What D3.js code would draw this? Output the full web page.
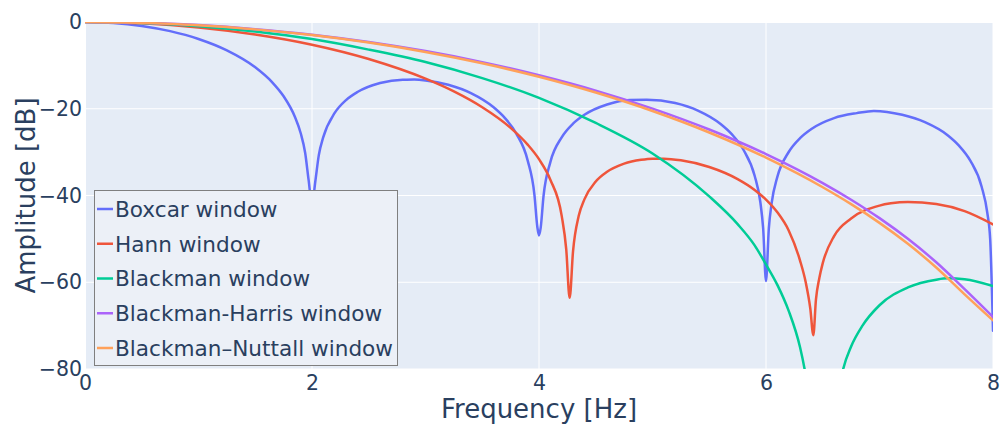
<!DOCTYPE html>
<html>
<head>
<meta charset="utf-8">
<script src="https://cdn.jsdelivr.net/npm/d3@7"></script>
<style>
  body { margin: 0; background: #ffffff; }
  text { font-family: "DejaVu Sans", Verdana, sans-serif; fill: #2a3f5f; }
</style>
</head>
<body>
<svg id="chart" width="1002" height="428"></svg>
<script>
// Window names (legend order = drawing order)
const seriesNames = ["Boxcar window", "Hann window", "Blackman window",
                     "Blackman-Harris window", "Blackman\u2013Nuttall window"];
const seriesColors = ["#636efa", "#ef553b", "#00cc96", "#ab63fa", "#ffa15a"];

// Tick values
const xTicks = [0, 2, 4, 6, 8];
const yTicks = [0, -20, -40, -60, -80];

// Boxcar window response: frequency [Hz] and amplitude [dB]
const boxcarFreq = [0, 0.25, 0.5, 0.75, 1.0, 1.25, 1.5, 1.65, 1.75, 1.85, 1.9, 1.94, 1.97, 2.0,
  2.03, 2.06, 2.1, 2.2, 2.3, 2.4, 2.6, 2.8, 2.9, 3.0, 3.2, 3.4, 3.6, 3.7, 3.8, 3.9, 3.96, 3.985,
  4.0, 4.015, 4.04, 4.1, 4.2, 4.3, 4.4, 4.6, 4.8, 4.95, 5.2, 5.4, 5.6, 5.7, 5.8, 5.9, 5.95, 5.975,
  6.0, 6.025, 6.05, 6.1, 6.2, 6.3, 6.4, 6.6, 6.8, 6.95, 7.2, 7.4, 7.6, 7.7, 7.8, 7.9, 7.95, 7.975, 8.0];
const boxcarDb = [0, -0.22, -0.91, -2.11, -3.92, -6.55, -10.45, -13.91, -17.13, -21.9, -25.6, -30.2, -36.4, -42,
  -36.6, -30.7, -26.5, -20.97, -18.0, -16.14, -14.06, -13.3, -13.28, -13.46, -14.46, -16.39, -19.66, -22.15, -25.72, -31.9, -39.9, -47.2,
  -49.2, -47.4, -40.1, -32.3, -26.6, -23.45, -21.4, -19.02, -17.98, -17.9, -18.68, -20.41, -23.5, -25.9, -29.39, -35.45, -41.5, -47.6,
  -59.7, -47.6, -41.7, -35.7, -29.97, -26.77, -24.66, -22.15, -21.01, -20.5, -21.4, -23.1, -26.1, -28.5, -31.97, -37.99, -44.03, -50.0, -71.2];

// Hann window response
const hannFreq = [0, 0.5, 1.0, 1.5, 2.0, 2.5, 3.0, 3.25, 3.5, 3.75, 3.9, 4.0, 4.1, 4.2, 4.24, 4.27,
  4.3, 4.35, 4.4, 4.5, 4.6, 4.75, 4.9, 5.0, 5.1, 5.25, 5.5, 5.75, 5.9, 6.0, 6.1, 6.2, 6.3, 6.35, 6.39,
  6.417, 6.44, 6.47, 6.5, 6.6, 6.75, 7.0, 7.1, 7.25, 7.5, 7.75, 8.0];
const hannDb = [0, -0.31, -1.25, -2.87, -5.23, -8.53, -13.06, -16.0, -19.65, -24.41, -28.27, -31.63, -36.36, -44.7, -52.4, -63.6,
  -52.8, -44.69, -40.89, -36.78, -34.54, -32.66, -31.77, -31.51, -31.5, -31.88, -33.43, -36.22, -38.72, -40.94, -43.87, -48.06, -55.0, -60.0, -66.0,
  -72.2, -64.0, -59.0, -55.6, -49.35, -45.29, -42.33, -41.81, -41.49, -41.96, -43.6, -46.66];

// Blackman window response
const blackmanFreq = [0, 0.5, 1.0, 1.5, 2.0, 2.5, 3.0, 3.5, 4.0, 4.5, 5.0, 5.5, 5.75, 5.9, 6.0, 6.1,
  6.2, 6.3, 6.34, 6.4, 6.5, 6.6, 6.68, 6.75, 6.85, 7.0, 7.25, 7.5, 7.6, 7.75, 8.0];
const blackmanDb = [0, -0.24, -0.96, -2.2, -3.94, -6.37, -9.22, -12.93, -17.49, -23.27, -30.3, -40.2, -46.6, -51.5, -55.9, -60.6,
  -66.6, -75.0, -80.0, -90, -102, -92, -80.0, -74.8, -70.0, -65.3, -61.2, -59.4, -59.1, -59.3, -60.9];

// Blackman-Harris window response
const harrisFreq = [0, 0.5, 1.0, 1.5, 2.0, 2.5, 3.0, 3.5, 4.0, 4.5, 5.0, 5.5, 6.0, 6.5, 6.75, 7.0, 7.25, 7.5, 7.75, 8.0];
const harrisDb = [0, -0.18, -0.72, -1.65, -2.93, -4.61, -6.71, -9.25, -12.27, -15.81, -19.96, -24.79, -30.45, -37.13, -40.97, -45.22, -49.99, -55.4, -61.6, -68.0];

// Blackman-Nuttall window response
const nuttallFreq = [0, 0.5, 1.0, 1.5, 2.0, 2.5, 3.0, 3.5, 4.0, 4.5, 5.0, 5.5, 6.0, 6.5, 6.75, 7.0, 7.25, 7.5, 7.75, 8.0];
const nuttallDb = [0, -0.19, -0.75, -1.7, -3.02, -4.75, -6.91, -9.52, -12.63, -16.27, -20.52, -25.47, -31.27, -38.09, -41.99, -46.31, -51.14, -56.6, -62.8, -68.8];

const seriesFreq = [boxcarFreq, hannFreq, blackmanFreq, harrisFreq, nuttallFreq];
const seriesDb = [boxcarDb, hannDb, blackmanDb, harrisDb, nuttallDb];

// Layout
const W = 1002, H = 428;
const margin = { left: 85, right: 9, top: 22, bottom: 59 };
const plotW = W - margin.left - margin.right;
const plotH = H - margin.top - margin.bottom;

const svg = d3.select("#chart");
svg.append("rect").attr("width", W).attr("height", H).attr("fill", "#ffffff");

const x = d3.scaleLinear().domain([0, 8]).range([margin.left, margin.left + plotW]);
const y = d3.scaleLinear().domain([-80, 0]).range([margin.top + plotH, margin.top]);

// Plot background
svg.append("rect")
  .attr("x", margin.left).attr("y", margin.top)
  .attr("width", plotW).attr("height", plotH)
  .attr("fill", "#e5ecf6");

// Grid lines
const grid = svg.append("g");
grid.selectAll("line.gx").data(xTicks).join("line")
  .attr("x1", d => x(d)).attr("x2", d => x(d))
  .attr("y1", margin.top).attr("y2", margin.top + plotH)
  .attr("stroke", "#ffffff").attr("stroke-width", d => d === 0 ? 2 : 1);
grid.selectAll("line.gy").data(yTicks).join("line")
  .attr("x1", margin.left).attr("x2", margin.left + plotW)
  .attr("y1", d => y(d)).attr("y2", d => y(d))
  .attr("stroke", "#ffffff").attr("stroke-width", d => d === 0 ? 2 : 1);

// Clip for the traces
svg.append("clipPath").attr("id", "plotclip")
  .append("rect")
  .attr("x", margin.left).attr("y", margin.top)
  .attr("width", plotW).attr("height", plotH);

const line = d3.line()
  .x(d => x(d[0]))
  .y(d => y(d[1]))
  .curve(d3.curveMonotoneX);

const traces = svg.append("g").attr("clip-path", "url(#plotclip)");
seriesNames.forEach((name, i) => {
  const pts = seriesFreq[i].map((f, k) => [f, seriesDb[i][k]]);
  traces.append("path")
    .datum(pts)
    .attr("d", line)
    .attr("fill", "none")
    .attr("stroke", seriesColors[i])
    .attr("stroke-width", 2.5)
    .attr("stroke-linejoin", "round")
    .attr("stroke-linecap", "round");
});

// Axes
const fmt = d3.format("d");
const xAxis = svg.append("g")
  .attr("transform", `translate(0,${margin.top + plotH})`)
  .call(d3.axisBottom(x).tickValues(xTicks).tickFormat(fmt).tickSize(0).tickPadding(6));
xAxis.select(".domain").remove();

const yAxis = svg.append("g")
  .attr("transform", `translate(${margin.left},0)`)
  .call(d3.axisLeft(y).tickValues(yTicks).tickFormat(fmt).tickSize(0).tickPadding(3));
yAxis.select(".domain").remove();

svg.selectAll(".tick text")
  .attr("font-family", null)
  .attr("font-size", 20.5)
  .style("fill", "#2a3f5f");

// Axis titles
svg.append("text")
  .attr("x", margin.left + plotW / 2).attr("y", 418)
  .attr("text-anchor", "middle").attr("font-size", 26)
  .text("Frequency [Hz]");
svg.append("text")
  .attr("transform", `translate(35,${margin.top + plotH / 2}) rotate(-90)`)
  .attr("text-anchor", "middle").attr("font-size", 26)
  .text("Amplitude [dB]");

// Legend
const legend = svg.append("g").attr("transform", "translate(94,190)");
legend.append("rect")
  .attr("x", 0.5).attr("y", 0.5).attr("width", 303).attr("height", 175)
  .attr("fill", "#ecf0f7").attr("stroke", "#7f7f7f").attr("stroke-width", 1);
const items = legend.selectAll("g.item").data(seriesNames).join("g")
  .attr("transform", (d, i) => `translate(0,${19 + i * 34.75})`);
items.append("line")
  .attr("x1", 3).attr("x2", 19).attr("y1", 0).attr("y2", 0)
  .attr("stroke", (d, i) => seriesColors[i]).attr("stroke-width", 2.5);
items.append("text")
  .attr("x", 21).attr("y", 0).attr("dy", "0.36em")
  .attr("font-size", 21.6)
  .text(d => d);
</script>
</body>
</html>
